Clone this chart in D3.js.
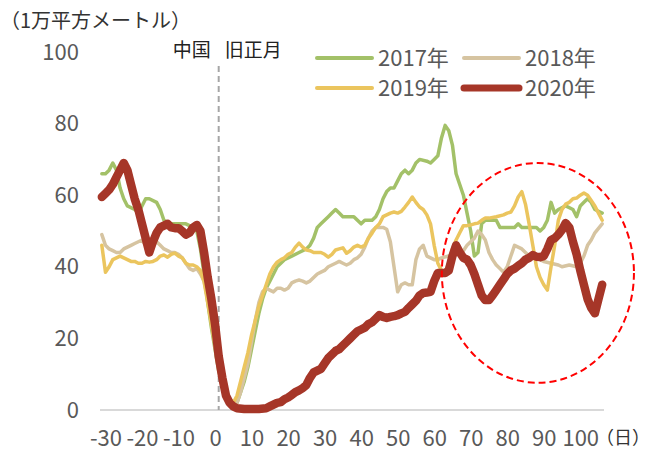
<!DOCTYPE html>
<html>
<head>
<meta charset="utf-8">
<script src="https://cdn.jsdelivr.net/npm/d3@7"></script>
<style>
  body { margin: 0; background: #fff; }
  text { font-family: "Noto Sans CJK JP", "Noto Sans", sans-serif; }
</style>
</head>
<body>
<script>
const w = 650;
const h = 453;

// days from Chinese New Year, values in 10,000 m2
const xTicks = [-30, -20, -10, 0, 10, 20, 30, 40, 50, 60, 70, 80, 90, 100];
const yTicks = [0, 20, 40, 60, 80, 100];
const years = ["2017年", "2018年", "2019年", "2020年"];
const colors = ["#a3c168", "#d6c4a1", "#ebc55e", "#a63628"];

const s2017 = [[-31,66],[-30,66],[-29,67],[-28,69],[-27,67],[-26,62],[-25,59],[-24,57],[-22,56],[-21,55],[-20,57],[-19,59],[-18,59],[-16,58],[-15,56],[-14,53],[-12,52],[-10,52],[-8,52],[-6,51],[-5,50],[-4,45],[-3,38],[-2,30],[-1,23],[0,17],[1,11],[2,7],[3,4],[4,3],[5,2],[6,2],[7,5],[8,8],[9,12],[10,17],[11,22],[12,27],[13,31],[14,34],[15,36],[16,38],[17,40],[18,41],[19,42],[21,43],[23,44],[25,45],[26,46],[27,48],[28,51],[29,52],[30,53],[31,54],[32,55],[33,56],[34,55],[35,54],[36,54],[38,54],[39,53],[40,52],[41,53],[43,53],[44,54],[45,56],[46,59],[47,61],[48,62],[49,62],[50,64],[51,66],[52,67],[53,66],[54,67],[55,69],[56,70],[58,69.5],[59,69],[60,70],[61,71],[62,76],[63,79.5],[64,78],[65,74],[66,66],[67,63],[68,60],[69,55],[70,50],[71,43],[72,44],[73,52],[74,53],[76,53],[77,53],[78,51],[80,51],[82,51],[83,52],[84,51],[86,51],[88,51],[89,50],[90,51],[91,53],[92,58],[93,55],[94,56],[96,57],[98,56],[99,54],[100,57],[101,58],[102,59],[103,58],[104,56],[106,55]];

const s2018 = [[-31,49],[-30,46],[-29,45],[-28,44.5],[-27,44],[-26,44],[-25,45],[-24,45.5],[-23,46],[-22,46.5],[-21,47],[-20,47.5],[-19,46],[-18,45],[-17,46],[-16,47],[-15,46],[-14,45],[-13,44.5],[-12,44],[-11,44],[-10,43.5],[-9,42.5],[-8,41],[-7,39.5],[-6,39],[-5,39.5],[-4,38],[-3,36],[-2,31],[-1,25],[0,18],[1,12],[2,7],[3,4],[4,2.5],[5,2],[6,2],[7,5],[8,9],[9,13],[10,19],[11,25],[12,30],[13,33],[14,34],[15,33.5],[16,33],[17,34],[18,34],[19,33.5],[20,34],[21,35.5],[22,36],[23,36.3],[24,36],[25,35.5],[26,36],[27,37],[28,38],[29,38.5],[30,39],[31,40],[32,40.5],[33,41],[34,41.5],[35,41],[36,40.5],[37,41],[38,42],[39,42.5],[40,43.5],[41,45.5],[42,48],[43,50],[44,51],[45,51],[46,51],[47,50.5],[48,47],[49,40],[50,33],[51,35],[52,35.5],[53,35],[54,35],[55,42],[56,45],[57,46],[58,43],[59,42.5],[60,42],[61,42],[62,42.5],[64,43],[66,43.5],[68,44.5],[69,46],[70,47],[71,48],[72,50],[73,49],[74,47.5],[75,44],[76,42],[77,40.5],[78,39.5],[79,38.5],[80,40],[81,43],[82,46],[83,45.5],[84,45],[85,44],[86,43],[88,42.5],[90,41.5],[92,41],[94,40.5],[95,40],[97,40.5],[99,40],[100,41],[101,43],[102,46],[103,47.5],[104,49.5],[106,52]];

const s2019 = [[-31,46],[-30,38.5],[-29,40],[-28,42],[-27,42.5],[-26,43],[-25,42.5],[-24,42],[-23,41.5],[-22,41.5],[-21,41],[-20,41],[-19,41.5],[-18,41.3],[-17,41.5],[-16,42],[-15,43],[-14,43.3],[-13,42.7],[-12,43.5],[-11,43.8],[-10,43],[-9,42.5],[-8,41],[-7,40.5],[-6,40.5],[-5,40],[-4,39],[-3,35.8],[-2,30],[-1,24],[0,18],[1,12],[2,8],[3,5],[4,3],[5,2],[6,4],[7,8],[8,12],[9,16],[10,21],[11,25],[12,29],[13,32],[14,35],[15,38],[16,40],[17,41.3],[18,42],[19,42.5],[20,43.5],[21,44],[22,45.5],[23,46.6],[24,45.5],[25,44.7],[26,44.5],[27,44],[28,44],[29,44],[30,43.5],[31,42.7],[32,43.5],[33,44.7],[34,45],[35,45.3],[36,43.8],[37,44.5],[38,45.5],[39,46],[40,45.5],[41,46],[42,48],[43,49.4],[44,51],[45,52],[46,54],[47,54.5],[48,55],[49,55.3],[50,55],[51,55.5],[52,56.7],[53,58],[54,59.5],[55,58],[56,56.7],[57,56],[58,54.5],[59,52],[60,46],[61,41],[62,39],[63,38.5],[64,41],[65,45],[66,47.5],[67,49.5],[68,51.5],[69,51.5],[70,51.7],[71,52],[72,52.2],[73,53],[74,53.6],[75,53.6],[77,54],[79,54.5],[80,55],[81,55.3],[82,57],[83,59.5],[84,61],[85,57.5],[86,52],[87,46],[88,40],[89,37],[90,35],[91,33.5],[92,40],[93,46],[94,53],[95,56],[96,57.5],[97,58],[98,59],[99,59.2],[100,60],[101,60.6],[102,60],[103,58.5],[104,57],[105,55],[106,53]];

const s2020 = [[-31,59.5],[-30,60.5],[-29,61.5],[-28,63],[-27,65],[-26,67],[-25,69],[-24,67],[-23,63],[-22,59],[-21,56],[-20,52],[-19,48],[-18,44],[-17,47],[-16,49.5],[-15,51],[-14,51.5],[-13,52],[-12,51],[-11,50.8],[-10,50.8],[-9,50],[-8,49],[-7,49.5],[-6,51],[-5,51.7],[-4,50],[-3,44],[-2,37],[-1,31],[0,24],[1,15],[2,9],[3,4],[4,2],[5,1],[6,0.5],[8,0.3],[10,0.3],[12,0.3],[14,0.5],[15,1],[16,1.5],[17,2],[18,2.2],[19,3],[20,3.5],[21,4.2],[22,5],[23,5.5],[24,6.1],[25,7],[26,9],[27,10.5],[28,11],[29,11.5],[30,13],[31,14.5],[32,15.5],[33,16.5],[34,17],[35,18],[36,19],[37,20],[38,21],[39,22],[40,22.5],[41,23],[42,24],[43,24.5],[44,25.5],[45,26.5],[46,26],[47,25.7],[48,26],[49,26.2],[50,26.5],[51,27],[52,27.4],[53,28.5],[54,29.5],[55,30.5],[56,32],[57,32.7],[58,32.8],[59,33],[60,36],[61,38.3],[62,38.3],[63,38.3],[64,39],[65,43],[66,46],[67,44],[68,42.5],[69,42],[70,40.5],[71,38],[72,35],[73,32],[74,30.7],[75,30.7],[76,32],[77,33.5],[78,35],[79,36.5],[80,38],[81,39],[82,39.5],[83,40.3],[84,41],[85,42],[86,42.5],[87,43.3],[88,42.8],[89,42.7],[90,43],[91,45],[92,47.5],[93,48],[94,49],[95,50.3],[96,52.2],[97,51],[98,47],[99,43.5],[100,39],[101,35],[102,31],[103,28.5],[104,27],[105,31],[106,35]];

const series = [s2017, s2018, s2019, s2020];
const widths = [3.5, 3.5, 3.5, 8.5];

// annotations: new year marker day, highlighted region (day / value units)
const cnyDay = 1;
const ring = { day: 88.4, value: 38.3, rDays: 26.3, rValue: 30.7 };

const x = d3.scaleLinear().domain([-31.5, 106.5]).range([100, 604]);
const y = d3.scaleLinear().domain([0, 100]).range([410, 52]);

const svg = d3.select("body").append("svg").attr("width", w).attr("height", h);

// baseline
svg.append("line")
  .attr("x1", 100).attr("x2", 604)
  .attr("y1", y(0)).attr("y2", y(0))
  .attr("stroke", "#d9d9d9").attr("stroke-width", 2);

// axes
const xAxis = svg.append("g")
  .attr("transform", `translate(0,${y(0)})`)
  .call(d3.axisBottom(x).tickValues(xTicks).tickSize(0).tickFormat((d) => String(d)));
xAxis.select(".domain").remove();
xAxis.selectAll("text")
  .attr("y", 20)
  .attr("font-size", 22)
  .attr("fill", "#595959")
  .style("font-family", '"Noto Sans CJK JP", sans-serif');

const yAxis = svg.append("g")
  .attr("transform", "translate(82,0)")
  .call(d3.axisLeft(y).tickValues(yTicks).tickSize(0).tickPadding(3));
yAxis.select(".domain").remove();
yAxis.selectAll("text")
  .attr("font-size", 22)
  .attr("fill", "#595959")
  .style("font-family", '"Noto Sans CJK JP", sans-serif');

svg.append("text")
  .attr("x", 596).attr("y", 444)
  .attr("font-size", 18).attr("fill", "#333")
  .text("（日）");

svg.append("text")
  .attr("x", 0).attr("y", 28)
  .attr("font-size", 20).attr("fill", "#333")
  .text("（1万平方メートル）");

// Chinese new year marker
svg.append("line")
  .attr("x1", x(cnyDay)).attr("x2", x(cnyDay))
  .attr("y1", 66).attr("y2", y(0))
  .attr("stroke", "#a6a6a6").attr("stroke-width", 2)
  .attr("stroke-dasharray", "6,4");
svg.append("text")
  .attr("x", x(cnyDay) - 8).attr("y", 57)
  .attr("text-anchor", "end")
  .attr("font-size", 19).attr("fill", "#222")
  .text("中国");
svg.append("text")
  .attr("x", x(cnyDay) + 6).attr("y", 57)
  .attr("font-size", 19).attr("fill", "#222")
  .text("旧正月");

// lines
const line = d3.line().x((d) => x(d[0])).y((d) => y(d[1]));
series.forEach((s, i) => {
  svg.append("path")
    .datum(s)
    .attr("fill", "none")
    .attr("stroke", colors[i])
    .attr("stroke-width", widths[i])
    .attr("stroke-linejoin", "round")
    .attr("stroke-linecap", "round")
    .attr("d", line);
});

// highlight ring
svg.append("ellipse")
  .attr("cx", x(ring.day)).attr("cy", y(ring.value))
  .attr("rx", x(ring.day + ring.rDays) - x(ring.day))
  .attr("ry", y(0) - y(ring.rValue))
  .attr("fill", "none")
  .attr("stroke", "#ff0000").attr("stroke-width", 2)
  .attr("stroke-dasharray", "7,4");

// legend
const legend = svg.append("g");
years.forEach((name, i) => {
  const lx = i % 2 === 0 ? 317 : 464;
  const ly = i < 2 ? 58 : 88;
  legend.append("line")
    .attr("x1", lx).attr("x2", lx + 55)
    .attr("y1", ly).attr("y2", ly)
    .attr("stroke", colors[i])
    .attr("stroke-width", widths[i] > 5 ? 7 : 4)
    .attr("stroke-linecap", "round");
  legend.append("text")
    .attr("x", lx + 61).attr("y", ly + 8)
    .attr("font-size", 22).attr("fill", "#595959")
    .text(name);
});
</script>
</body>
</html>
